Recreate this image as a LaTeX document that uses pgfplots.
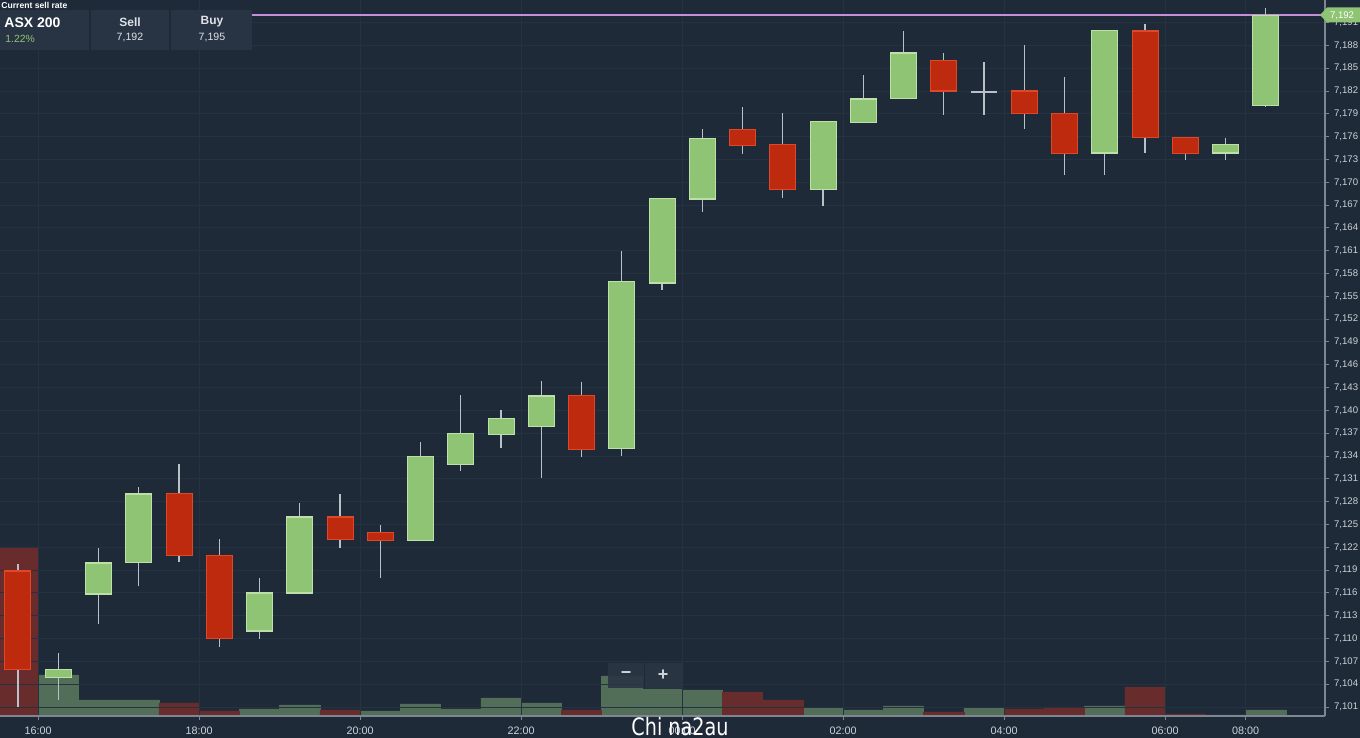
\documentclass[border=0pt]{standalone}
\usepackage{pgfplots}
\pgfplotsset{compat=1.18}
\usepackage{pgfplotstable}
\usepackage{fontspec}
\setmainfont{Liberation Sans}
\newfontfamily\wmfont{DejaVu Sans}

\definecolor{bg}{RGB}{31,42,57}
\definecolor{gridc}{RGB}{37,50,65}
\definecolor{axisc}{RGB}{125,134,145}
\definecolor{labc}{RGB}{205,210,216}
\definecolor{headc}{RGB}{222,226,232}
\definecolor{upfill}{RGB}{142,196,115}
\definecolor{upline}{RGB}{188,224,168}
\definecolor{dnfill}{RGB}{190,42,14}
\definecolor{dnline}{RGB}{222,72,40}
\definecolor{wick}{RGB}{185,192,200}
\definecolor{volg}{RGB}{82,110,88}
\definecolor{volr}{RGB}{105,44,44}
\definecolor{boxbg}{RGB}{40,52,67}
\definecolor{sepc}{RGB}{30,40,54}
\definecolor{pline}{RGB}{198,142,214}
\definecolor{btnbg}{RGB}{42,54,68}

\pgfplotsset{
  candle/.style 2 args={only marks, mark=*, mark size=0pt, mark options={draw=none, fill=none},
    error bars/.cd, y dir=both, y explicit, error mark=none,
    error bar style={line width=#1, draw=#2}},
}

% candles: index, open, high, low, close
\pgfplotstableread{
x o h l c
1 7104.9 7108.1 7101.9 7106.0
2 7116.0 7121.9 7112.0 7120.1
3 7120.1 7130.0 7117.0 7129.1
6 7111.0 7118.1 7110.1 7116.0
7 7116.0 7127.9 7116.0 7126.0
10 7123.0 7136.0 7123.0 7134.0
11 7132.9 7142.0 7132.0 7137.0
12 7137.0 7140.0 7135.0 7139.1
13 7138.0 7143.8 7131.1 7142.0
15 7135.0 7161.1 7134.1 7157.0
16 7156.9 7168.0 7155.9 7168.0
17 7167.9 7177.0 7166.1 7175.9
20 7169.1 7178.0 7167.0 7178.0
21 7177.9 7184.1 7177.9 7181.0
22 7181.0 7190.0 7181.0 7187.0
27 7173.9 7190.0 7171.0 7190.0
30 7173.9 7175.9 7173.0 7175.0
31 7180.1 7193.0 7180.1 7192.0
}\upc

\pgfplotstableread{
x o h l c
0 7119.0 7119.9 7101.0 7106.0
4 7129.1 7132.9 7120.1 7121.0
5 7121.0 7123.1 7108.9 7110.1
8 7126.0 7129.1 7122.0 7123.0
9 7124.0 7125.0 7118.0 7123.0
14 7142.0 7143.8 7134.0 7134.9
18 7177.1 7180.0 7173.9 7175.0
19 7175.0 7179.1 7167.9 7169.1
23 7186.0 7187.0 7178.9 7182.0
25 7182.0 7188.1 7177.1 7179.0
26 7179.1 7183.9 7171.0 7173.9
28 7190.0 7190.9 7173.9 7176.0
29 7176.0 7176.0 7173.0 7173.9
}\dnc

\pgfplotstableread{
x o h l c
24 7182.0 7185.9 7179.0 7182.0
}\doji

% volume (relative units)
\pgfplotstableread{
x v
1 41
2 16
3 16
6 7
7 11
9 5
10 12
11 7
12 18
13 13
15 40
16 27
17 26
20 8
21 6
22 10
24 8
27 10
30 1
31 6
}\volgt

\pgfplotstableread{
x v
0 169
4 13
5 5
8 6
14 6
18 24
19 16
23 4
25 7
26 9
28 29
29 2
}\volrt

\begin{document}
\begin{tikzpicture}
\useasboundingbox (0,0) rectangle (680pt,369pt);
\fill[bg] (0,0) rectangle (680pt,369pt);

% volume
\begin{axis}[at={(0pt,11pt)}, anchor=south west, scale only axis,
    width=662.5pt, height=358pt, hide axis,
    xmin=-0.447, xmax=32.47, ymin=0, ymax=716]
  \addplot[ybar, bar width=1, bar shift=0pt, fill=volg, draw=volg, line width=0.3pt] table[x=x, y=v] {\volgt};
  \addplot[ybar, bar width=1, bar shift=0pt, fill=volr, draw=volr, line width=0.3pt] table[x=x, y=v] {\volrt};
\end{axis}

% price
\begin{axis}[at={(0pt,11pt)}, anchor=south west, scale only axis,
    width=662.5pt, height=358pt,
    xmin=-0.447, xmax=32.47, ymin=7099.82, ymax=7193.97,
    axis x line*=bottom, axis y line*=right,
    axis line style={draw=axisc, line width=0.6pt},
    ytick={7101,7104,...,7191},
    xtick={0.5,4.5,8.5,12.5,16.5,20.5,24.5,28.5,30.5},
    xticklabels={16:00,18:00,20:00,22:00,00:00,02:00,04:00,06:00,08:00},
    grid=major, major grid style={draw=gridc, line width=0.5pt},
    tick align=outside, major tick length=2pt,
    tick style={draw=axisc, line width=0.5pt},
    scaled y ticks=false,
    /pgf/number format/assume math mode=true,
    /pgf/number format/1000 sep={,},
    yticklabel style={font=\fontsize{4.8}{5}\selectfont, color=labc, xshift=-1pt},
    xticklabel style={font=\fontsize{5.4}{6}\selectfont, color=labc},
  ]
  \addplot[pline, line width=0.9pt] coordinates {(-0.447,7192) (32.47,7192)};

  % wicks
  \addplot[candle={0.6pt}{wick}]
    table[x=x, y expr={(\thisrow{h}+\thisrow{l})/2}, y error expr={(\thisrow{h}-\thisrow{l})/2}] {\upc};
  \addplot[candle={0.6pt}{wick}]
    table[x=x, y expr={(\thisrow{h}+\thisrow{l})/2}, y error expr={(\thisrow{h}-\thisrow{l})/2}] {\dnc};
  \addplot[candle={0.6pt}{wick}]
    table[x=x, y expr={(\thisrow{h}+\thisrow{l})/2}, y error expr={(\thisrow{h}-\thisrow{l})/2}] {\doji};

  % bodies: outline, then fill
  \addplot[candle={13.5pt}{upline}]
    table[x=x, y expr={(\thisrow{o}+\thisrow{c})/2}, y error expr={abs(\thisrow{c}-\thisrow{o})/2+0.08}] {\upc};
  \addplot[candle={12.5pt}{upfill}]
    table[x=x, y expr={(\thisrow{o}+\thisrow{c})/2}, y error expr={abs(\thisrow{c}-\thisrow{o})/2-0.08}] {\upc};
  \addplot[candle={13.5pt}{dnline}]
    table[x=x, y expr={(\thisrow{o}+\thisrow{c})/2}, y error expr={abs(\thisrow{c}-\thisrow{o})/2+0.08}] {\dnc};
  \addplot[candle={12.5pt}{dnfill}]
    table[x=x, y expr={(\thisrow{o}+\thisrow{c})/2}, y error expr={abs(\thisrow{c}-\thisrow{o})/2-0.08}] {\dnc};
  \addplot[candle={13pt}{wick}]
    table[x=x, y expr={(\thisrow{o}+\thisrow{c})/2}, y error expr={0.07}] {\doji};
\end{axis}

% overlays in pixel units (origin top left)
\begin{scope}[shift={(0,369pt)}, x=0.5pt, y=-0.5pt]
  \node[anchor=west, inner sep=0, text=white, font=\bfseries\fontsize{4.3}{5}\selectfont] at (1,5) {Current sell rate};
  \fill[boxbg] (0,10) rectangle (252,50);
  \draw[sepc, line width=0.6pt] (90,10) -- (90,50) (170,10) -- (170,50);
  \node[anchor=west, inner sep=0, text=white, font=\bfseries\fontsize{7}{8}\selectfont] at (4,23) {ASX 200};
  \node[anchor=west, inner sep=0, text=upfill, font=\fontsize{5.2}{6}\selectfont] at (5,39) {1.22\%};
  \node[inner sep=0, text=headc, font=\bfseries\fontsize{6}{7}\selectfont] at (130,22) {Sell};
  \node[inner sep=0, text=headc, font=\fontsize{5.3}{6}\selectfont] at (130,37) {7,192};
  \node[inner sep=0, text=headc, font=\bfseries\fontsize{6}{7}\selectfont] at (212,22) {Buy};
  \node[inner sep=0, text=headc, font=\fontsize{5.3}{6}\selectfont] at (212,37) {7,195};

  \fill[upfill] (1320,15) -- (1327,7.5) -- (1360,7.5) -- (1360,22.5) -- (1327,22.5) -- cycle;
  \node[inner sep=0, text=white, font=\fontsize{4.8}{5}\selectfont] at (1342,15.5) {7,192};

  \fill[btnbg, opacity=0.9] (608,663) rectangle (644,688);
  \fill[btnbg, opacity=0.9] (645,663) rectangle (683,688);
  \node[inner sep=0, text=labc, font=\bfseries\fontsize{9}{9}\selectfont] at (626,675.5) {\char"2212};
  \node[inner sep=0, text=labc, font=\bfseries\fontsize{9}{9}\selectfont] at (663,675.5) {+};

  \node[anchor=south, inner sep=0, text=white, xscale=0.8, font=\wmfont\fontsize{12}{12}\selectfont] at (680,736) {Chi na2au};
\end{scope}
\end{tikzpicture}
\end{document}
